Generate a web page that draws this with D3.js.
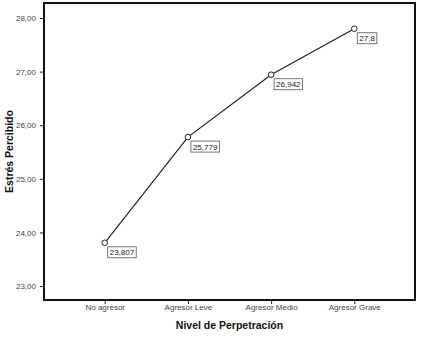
<!DOCTYPE html>
<html><head><meta charset="utf-8">
<script src="https://cdn.jsdelivr.net/npm/d3@7"></script>
<style>body{margin:0;background:#fff}svg{display:block}</style>
</head><body><svg id="c" width="429" height="339"></svg>
<script>
const categories = ["No agresor","Agresor Leve","Agresor Medio","Agresor Grave"];
const values = [23.807, 25.779, 26.942, 27.8];
const valueLabels = ["23,807","25,779","26,942","27,8"];
const yTicks = [23,24,25,26,27,28];

const svg = d3.select("#c");
const L=44, R=415, T=3, B=300;
const x = d3.scalePoint().domain(categories).range([L,R]).padding(0.73);
const y = d3.scaleLinear().domain([22.74,28.28]).range([B,T]);

const fmt = d => d.toFixed(2).replace(".",",");
const ya = svg.append("g").attr("transform",`translate(${L},0)`)
  .call(d3.axisLeft(y).tickValues(yTicks).tickFormat(fmt).tickSize(4).tickSizeOuter(0));
ya.select(".domain").remove();
ya.selectAll("text").attr("font-family","Arial, Liberation Sans, sans-serif").attr("font-size",8).attr("fill","#444").attr("dx",-1);
ya.selectAll("line").attr("stroke","#222");

const xa = svg.append("g").attr("transform",`translate(0,${B})`)
  .call(d3.axisBottom(x).tickSize(4).tickSizeOuter(0));
xa.select(".domain").remove();
xa.selectAll("text").attr("font-family","Arial, Liberation Sans, sans-serif").attr("font-size",8).attr("fill","#444").attr("dy",3);
xa.selectAll("line").attr("stroke","#222");

svg.append("rect").attr("x",L).attr("y",T).attr("width",R-L).attr("height",B-T)
  .attr("fill","none").attr("stroke","#111").attr("stroke-width",2);

const line = d3.line().x((d,i)=>x(categories[i])).y(d=>y(d));
svg.append("path").datum(values).attr("d",line).attr("fill","none").attr("stroke","#222").attr("stroke-width",1.2);

svg.selectAll("circle.pt").data(values).join("circle").attr("class","pt")
  .attr("cx",(d,i)=>x(categories[i])).attr("cy",d=>y(d)).attr("r",2.8)
  .attr("fill","#fff").attr("stroke","#222").attr("stroke-width",1);

const lab = svg.selectAll("g.lab").data(values).join("g").attr("class","lab")
  .attr("transform",(d,i)=>`translate(${x(categories[i])+3},${y(d)+4})`);
lab.each(function(d,i){
  const g=d3.select(this);
  const t=g.append("text").attr("x",2).attr("y",8.5).text(valueLabels[i])
    .attr("font-family","Arial, Liberation Sans, sans-serif").attr("font-size",8).attr("fill","#222");
  const w=t.node().getComputedTextLength();
  g.insert("rect","text").attr("x",0).attr("y",0).attr("width",w+4).attr("height",11)
    .attr("fill","#fff").attr("stroke","#555").attr("stroke-width",0.8);
});

svg.append("text").attr("x",(L+R)/2).attr("y",329).attr("text-anchor","middle")
  .attr("font-family","Arial, Liberation Sans, sans-serif").attr("font-weight","bold").attr("font-size",10.5).attr("fill","#111")
  .text("Nivel de Perpetración");
svg.append("text").attr("transform",`translate(13,${(T+B)/2}) rotate(-90)`).attr("text-anchor","middle")
  .attr("font-family","Arial, Liberation Sans, sans-serif").attr("font-weight","bold").attr("font-size",10.5).attr("fill","#111")
  .text("Estrés Percibido");
</script></body></html>
